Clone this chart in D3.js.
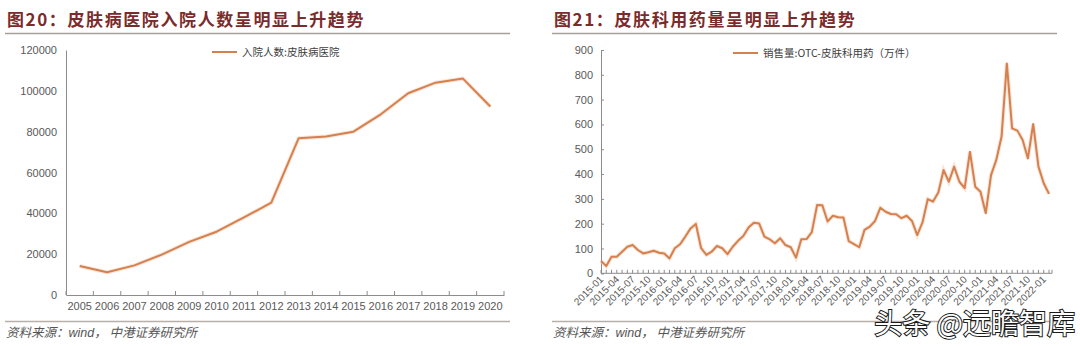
<!DOCTYPE html>
<html>
<head>
<meta charset="utf-8">
<script src="https://cdn.jsdelivr.net/npm/d3@7"></script>
<style>
  html, body { margin: 0; padding: 0; background: #fff; }
  svg { display: block; }
  .tick text { font-family: "Liberation Sans", Arial, sans-serif; fill: #595959; }
</style>
</head>
<body>
<svg id="chart" width="1080" height="346"></svg>
<script>
// Figure 20: inpatient admissions, dermatology hospitals (yearly)
const years = ["2005","2006","2007","2008","2009","2010","2011","2012","2013","2014","2015","2016","2017","2018","2019","2020"];
const admissions = [14200, 11100, 14500, 19800, 26000, 31000, 38000, 45200, 76800, 77600, 80000, 88500, 98800, 104000, 106000, 92300];
const leftYTicks = [0, 20000, 40000, 60000, 80000, 100000, 120000];

// Figure 21: OTC dermatology drug sales volume (monthly, 10k units)
const monthStart = [2015, 1];
const monthCount = 86;
const months = d3.range(monthCount).map(i => {
  const y = monthStart[0] + Math.floor((monthStart[1] - 1 + i) / 12);
  const m = (monthStart[1] - 1 + i) % 12 + 1;
  return y + "-" + String(m).padStart(2, "0");
});
const sales = [
  50, 29, 67, 67, 87, 107, 114, 94, 80, 85, 91, 83,
  80, 60, 101, 117, 148, 181, 199, 101, 74, 87, 110, 101,
  77, 107, 131, 150, 185, 204, 201, 148, 137, 121, 141, 114,
  105, 63, 137, 138, 166, 275, 274, 209, 232, 226, 225, 130,
  118, 105, 175, 188, 211, 264, 248, 239, 238, 222, 232, 211,
  154, 205, 299, 289, 326, 416, 369, 430, 369, 343, 490, 349,
  329, 242, 396, 457, 551, 846, 584, 575, 537, 463, 602, 430,
  363, 320
];
const rightYTicks = [0, 100, 200, 300, 400, 500, 600, 700, 800, 900];

const svg = d3.select("#chart");
const lineColor = "#d5804f";
const axisColor = "#8c8c8c";
const titleColor = "#7a2b2b";

// ---- headers and footers ----
function frame(x0, x1, title) {
  svg.append("text")
    .attr("x", x0 + 2).attr("y", 26)
    .attr("font-family", "'Noto Sans CJK SC', sans-serif")
    .attr("font-weight", "bold")
    .attr("font-size", 17)
    .attr("letter-spacing", 1.6)
    .attr("fill", titleColor)
    .text(title);
  svg.append("line")
    .attr("x1", x0).attr("x2", x1).attr("y1", 33.5).attr("y2", 33.5)
    .attr("stroke", "#a8a19b").attr("stroke-width", 1.5);
  svg.append("line")
    .attr("x1", x0).attr("x2", x1).attr("y1", 321.5).attr("y2", 321.5)
    .attr("stroke", "#b8afa8").attr("stroke-width", 1.5);
  const src = svg.append("text")
    .attr("x", x0 + 1).attr("y", 337)
    .attr("font-size", 12.5)
    .attr("fill", "#555")
    .attr("font-style", "italic")
    .attr("font-family", "'Noto Sans CJK SC', sans-serif");
  src.append("tspan").text("资料来源：");
  src.append("tspan").attr("font-family", "'Liberation Sans', Arial, sans-serif").text("wind");
  src.append("tspan").text("，  中港证券研究所");
}
frame(5, 510, "图20：皮肤病医院入院人数呈明显上升趋势");
frame(552, 1057, "图21：皮肤科用药量呈明显上升趋势");

function legend(x, y, label) {
  svg.append("line")
    .attr("x1", x).attr("x2", x + 25).attr("y1", y).attr("y2", y)
    .attr("stroke", lineColor).attr("stroke-width", 2);
  svg.append("text")
    .attr("x", x + 30).attr("y", y + 4)
    .attr("font-family", "'Noto Sans CJK SC', sans-serif")
    .attr("font-size", 10.5)
    .attr("fill", "#404040")
    .text(label);
}

// ---- left chart ----
{
  const x = d3.scaleBand().domain(years).range([66, 504]);
  const y = d3.scaleLinear().domain([0, 120000]).range([295, 50]);

  const yAxis = svg.append("g").attr("transform", "translate(66,0)")
    .call(d3.axisLeft(y).tickValues(leftYTicks).tickSize(0).tickPadding(9).tickFormat(d3.format("d")));
  yAxis.select(".domain").attr("stroke", axisColor);
  yAxis.selectAll("text").attr("font-size", 11);

  const xAxis = svg.append("g").attr("transform", "translate(0,295)")
    .call(d3.axisBottom(x).tickSize(0).tickPadding(7));
  xAxis.select(".domain").attr("stroke", axisColor);
  xAxis.selectAll("text").attr("font-size", 11);
  // category boundary ticks
  const edges = years.map(d => x(d)).concat([x.range()[1]]);
  svg.append("g").selectAll("line").data(edges).join("line")
    .attr("x1", d => d).attr("x2", d => d)
    .attr("y1", 295).attr("y2", 291)
    .attr("stroke", axisColor);

  const line = d3.line()
    .x((d, i) => x(years[i]) + x.bandwidth() / 2)
    .y(d => y(d));
  svg.append("path").datum(admissions)
    .attr("d", line).attr("fill", "none")
    .attr("stroke", "#f3c9b0").attr("stroke-width", 4).attr("opacity", 0.5);
  svg.append("path").datum(admissions)
    .attr("d", line).attr("fill", "none")
    .attr("stroke", lineColor).attr("stroke-width", 2).attr("stroke-linejoin", "round");

  legend(212, 52, "入院人数:皮肤病医院");
}

// ---- right chart ----
{
  const x = d3.scalePoint().domain(months).range([601, 1049]);
  const y = d3.scaleLinear().domain([0, 900]).range([273.3, 50]);

  const yAxis = svg.append("g").attr("transform", "translate(601,0)")
    .call(d3.axisLeft(y).tickValues(rightYTicks).tickSize(-3).tickPadding(8));
  yAxis.select(".domain").attr("stroke", axisColor);
  yAxis.selectAll("line").attr("stroke", axisColor);
  yAxis.selectAll("text").attr("font-size", 11);

  svg.append("line")
    .attr("x1", 601).attr("x2", 1052).attr("y1", 273.3).attr("y2", 273.3)
    .attr("stroke", axisColor);
  svg.append("g").selectAll("line").data(months).join("line")
    .attr("x1", d => x(d)).attr("x2", d => x(d))
    .attr("y1", 273.3).attr("y2", 269.8)
    .attr("stroke", axisColor);
  svg.append("line")
    .attr("x1", 1052).attr("x2", 1052).attr("y1", 273.3).attr("y2", 269.8)
    .attr("stroke", axisColor);

  const labeled = months.filter((d, i) => i % 3 === 0);
  svg.append("g").selectAll("text").data(labeled).join("text")
    .attr("transform", d => `translate(${x(d) + 3},${280}) rotate(-45)`)
    .attr("text-anchor", "end")
    .attr("font-family", "'Liberation Sans', Arial, sans-serif")
    .attr("font-size", 10)
    .attr("fill", "#595959")
    .text(d => d);

  const line = d3.line()
    .x((d, i) => x(months[i]))
    .y(d => y(d));
  svg.append("path").datum(sales)
    .attr("d", line).attr("fill", "none")
    .attr("stroke", "#f3c9b0").attr("stroke-width", 4).attr("opacity", 0.5);
  svg.append("path").datum(sales)
    .attr("d", line).attr("fill", "none")
    .attr("stroke", lineColor).attr("stroke-width", 2).attr("stroke-linejoin", "round");

  legend(733, 53, "销售量:OTC-皮肤科用药（万件）");
}

// ---- watermark ----
svg.append("text")
  .attr("x", 1075).attr("y", 334)
  .attr("text-anchor", "end")
  .attr("font-family", "'Noto Sans CJK SC', sans-serif")
  .attr("font-size", 28)
  .attr("fill", "#fff")
  .attr("stroke", "#1a1a1a")
  .attr("stroke-width", 2)
  .attr("paint-order", "stroke")
  .text("头条 @远瞻智库");
</script>
</body>
</html>
